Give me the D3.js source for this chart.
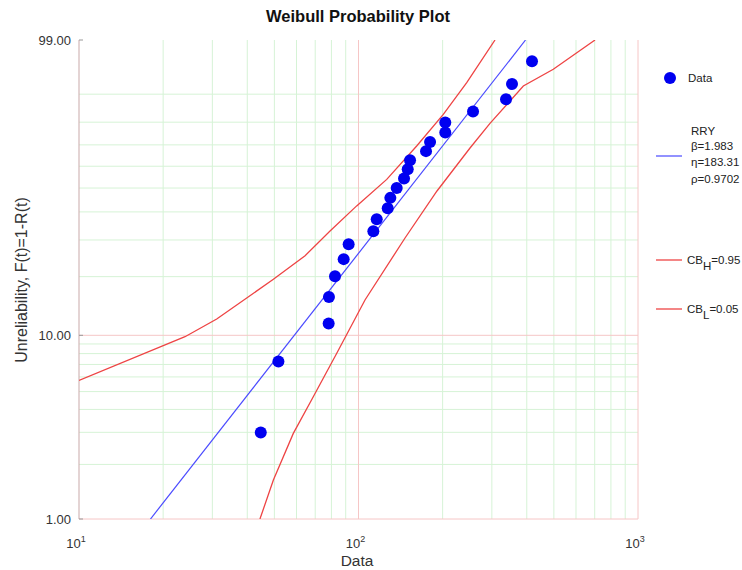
<!DOCTYPE html>
<html>
<head>
<meta charset="utf-8">
<script src="https://cdn.jsdelivr.net/npm/d3@7"></script>
<style>
  body { margin: 0; background: #ffffff; }
  text { font-family: "Liberation Sans", Arial, Helvetica, sans-serif; }
</style>
</head>
<body>
<svg id="chart" width="742" height="570"></svg>
<script>
// Failure times (sorted) and their median-rank unreliability, in percent
const failureTimes = [44.7, 51.7, 78.2, 78.4, 82.4, 88.5, 92.2, 113.0, 116.2, 127.2, 130.0, 137.0,
                      145.5, 150.0, 152.9, 174.4, 180.3, 204.4, 204.4, 256.9, 337.1, 354.2, 417.6];
const unreliabilityPct = [2.99, 7.26, 11.54, 15.81, 20.09, 24.36, 28.63, 32.91, 37.18, 41.45, 45.73, 50.00,
                          54.27, 58.55, 62.82, 67.09, 71.37, 75.64, 79.91, 84.19, 88.46, 92.74, 97.01];

// Rank regression on Y estimates
const rryBeta = 1.983;
const rryEta = 183.31;
const rryRho = 0.9702;

// Confidence bounds (time, unreliability %)
const upperBoundTimes = [10, 23.95, 31.1, 49.6, 64.4, 79.1, 98.5, 126.2, 161.5, 201.1, 243.9, 307.9];
const upperBoundPct   = [5.75, 9.83, 12.17, 19.4, 25.3, 33.0, 42.4, 53.9, 69.5, 83.1, 93.05, 99];
const lowerBoundTimes = [44.4, 49.6, 58.45, 68.9, 83.6, 105.5, 146.7, 190.9, 250.6, 295.4, 388.8, 497.7, 701.8];
const lowerBoundPct   = [1, 1.64, 2.96, 4.69, 8.03, 15.26, 30.64, 48.7, 68.55, 79.5, 92.24, 95.8, 99];

// Axis ticks and grid
const xTickValues = [10, 100, 1000];
const xTickExponents = ["1", "2", "3"];
const yTickValues = [1, 10, 99];
const yTickLabels = ["1.00", "10.00", "99.00"];
const xMinorGrid = [20, 30, 40, 50, 60, 70, 80, 90, 200, 300, 400, 500, 600, 700, 800, 900];
const xMajorGrid = [100, 1000];
const yMinorGrid = [2, 3, 4, 5, 6, 7, 8, 9, 20, 30, 40, 50, 60, 70, 80, 90];
const yMajorGrid = [1, 10];

const svg = d3.select("#chart");
const plotLeft = 79, plotRight = 638, plotTop = 40, plotBottom = 519;

// Weibull probability transform: ln(-ln(1-F))
const wb = p => Math.log(-Math.log(1 - p / 100));

const x = d3.scaleLog().domain([10, 1000]).range([plotLeft, plotRight]);
const y = d3.scaleLinear().domain([wb(1), wb(99)]).range([plotBottom, plotTop]);
const yP = p => y(wb(p));

svg.append("defs").append("clipPath").attr("id", "plotClip")
  .append("rect").attr("x", plotLeft).attr("y", plotTop)
  .attr("width", plotRight - plotLeft).attr("height", plotBottom - plotTop);

const grid = svg.append("g");
const minorColor = "#d6f3d6", majorColor = "#f6c6c6";

grid.selectAll("line.xmin").data(xMinorGrid).join("line")
  .attr("x1", d => x(d)).attr("x2", d => x(d)).attr("y1", plotTop).attr("y2", plotBottom)
  .attr("stroke", minorColor).attr("stroke-width", 1);
grid.selectAll("line.ymin").data(yMinorGrid).join("line")
  .attr("x1", plotLeft).attr("x2", plotRight).attr("y1", d => yP(d)).attr("y2", d => yP(d))
  .attr("stroke", minorColor).attr("stroke-width", 1);
grid.selectAll("line.xmaj").data(xMajorGrid).join("line")
  .attr("x1", d => x(d)).attr("x2", d => x(d)).attr("y1", plotTop).attr("y2", plotBottom)
  .attr("stroke", majorColor).attr("stroke-width", 1);
grid.selectAll("line.ymaj").data(yMajorGrid).join("line")
  .attr("x1", plotLeft).attr("x2", plotRight).attr("y1", d => yP(d)).attr("y2", d => yP(d))
  .attr("stroke", majorColor).attr("stroke-width", 1);

// Left axis line and ticks
svg.append("line").attr("x1", plotLeft).attr("x2", plotLeft).attr("y1", plotTop).attr("y2", plotBottom)
  .attr("stroke", "#c9a9a9").attr("stroke-width", 1);
svg.selectAll("line.ytick").data(yTickValues).join("line")
  .attr("x1", plotLeft).attr("x2", plotLeft + 4).attr("y1", d => yP(d)).attr("y2", d => yP(d))
  .attr("stroke", "#999").attr("stroke-width", 1);

svg.selectAll("text.ylab").data(yTickValues).join("text")
  .attr("x", plotLeft - 8).attr("y", d => yP(d) + 4.5)
  .attr("text-anchor", "end").attr("font-size", 13).attr("fill", "#333")
  .text((d, i) => yTickLabels[i]);

const xl = svg.selectAll("text.xlab").data(xTickValues).join("text")
  .attr("x", d => x(d) - 3).attr("y", 548)
  .attr("text-anchor", "middle").attr("font-size", 13).attr("fill", "#333");
xl.append("tspan").text("10");
xl.append("tspan").attr("font-size", 9).attr("dy", -6).text((d, i) => xTickExponents[i]);

// Title and axis titles
svg.append("text").attr("x", 358).attr("y", 22).attr("text-anchor", "middle")
  .attr("font-size", 16.5).attr("font-weight", "bold").attr("fill", "#111").text("Weibull Probability Plot");
svg.append("text").attr("x", 357).attr("y", 566).attr("text-anchor", "middle")
  .attr("font-size", 15.5).attr("fill", "#333").text("Data");
svg.append("text").attr("transform", "translate(27,280) rotate(-90)").attr("text-anchor", "middle")
  .attr("font-size", 16).attr("fill", "#333").text("Unreliability, F(t)=1-R(t)");

const plot = svg.append("g").attr("clip-path", "url(#plotClip)");
const line = d3.line().x(d => x(d.t)).y(d => yP(d.p));

// Confidence bounds
const upperBound = upperBoundTimes.map((t, i) => ({ t, p: upperBoundPct[i] }));
const lowerBound = lowerBoundTimes.map((t, i) => ({ t, p: lowerBoundPct[i] }));
plot.append("path").datum(upperBound).attr("d", line)
  .attr("fill", "none").attr("stroke", "#ee4444").attr("stroke-width", 1.3);
plot.append("path").datum(lowerBound).attr("d", line)
  .attr("fill", "none").attr("stroke", "#ee4444").attr("stroke-width", 1.3);

// Fitted Weibull line from beta and eta
const fitLine = [1, 99].map(p => ({ t: rryEta * Math.pow(-Math.log(1 - p / 100), 1 / rryBeta), p }));
plot.append("path").datum(fitLine).attr("d", line)
  .attr("fill", "none").attr("stroke", "#4a4aff").attr("stroke-width", 1.2);

// Data points
const points = failureTimes.map((t, i) => ({ t, p: unreliabilityPct[i] }));
svg.selectAll("circle.pt").data(points).join("circle")
  .attr("cx", d => x(d.t)).attr("cy", d => yP(d.p)).attr("r", 6)
  .attr("fill", "#0000f0");

// Legend
const lg = svg.append("g").attr("font-size", 11.5).attr("fill", "#222");
lg.append("circle").attr("cx", 670).attr("cy", 78).attr("r", 6).attr("fill", "#0000f0");
lg.append("text").attr("x", 688).attr("y", 82).text("Data");

lg.append("text").attr("x", 691).attr("y", 135).text("RRY");
lg.append("text").attr("x", 691).attr("y", 150).text("β=" + rryBeta.toFixed(3));
lg.append("text").attr("x", 691).attr("y", 166).text("η=" + rryEta.toFixed(2));
lg.append("text").attr("x", 691).attr("y", 183).text("ρ=" + rryRho.toFixed(4));
lg.append("line").attr("x1", 656).attr("x2", 682).attr("y1", 156).attr("y2", 156)
  .attr("stroke", "#4a4aff").attr("stroke-width", 1.2);

const cbRows = [["H", "=0.95", 260], ["L", "=0.05", 309]];
cbRows.forEach(([sub, val, yy]) => {
  lg.append("line").attr("x1", 656).attr("x2", 682).attr("y1", yy).attr("y2", yy)
    .attr("stroke", "#ee4444").attr("stroke-width", 1.3);
  const t = lg.append("text").attr("x", 687).attr("y", yy + 4);
  t.append("tspan").text("CB");
  t.append("tspan").attr("dy", 6).text(sub);
  t.append("tspan").attr("dy", -6).text(val);
});
</script>
</body>
</html>
